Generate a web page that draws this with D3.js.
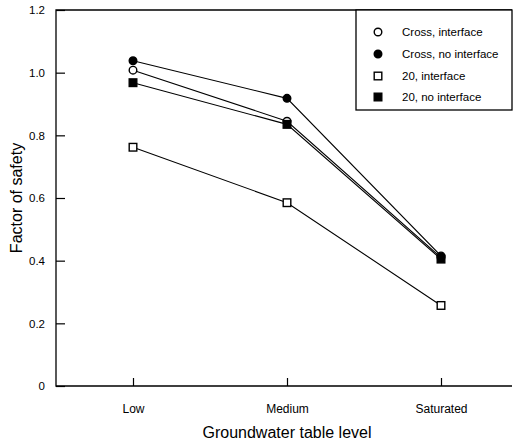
<!DOCTYPE html>
<html>
<head>
<meta charset="utf-8">
<script src="https://cdn.jsdelivr.net/npm/d3@7"></script>
<style>
  body { margin: 0; background: #fff; }
  text { font-family: "Liberation Sans", Arial, sans-serif; fill: #000; }
</style>
</head>
<body>
<svg id="chart" width="515" height="443"></svg>
<script>
// Groundwater table levels along the x axis
const levels = ["Low", "Medium", "Saturated"];

// Factor of safety for each case
const crossInterface   = [1.008, 0.845, 0.410];
const crossNoInterface = [1.038, 0.918, 0.415];
const twentyInterface  = [0.762, 0.585, 0.257];
const twentyNoInterface= [0.968, 0.835, 0.405];

const seriesNames = ["Cross, interface", "Cross, no interface", "20, interface", "20, no interface"];
const yTicks = [0, 0.2, 0.4, 0.6, 0.8, 1.0, 1.2];
const yTickLabels = ["0", "0.2", "0.4", "0.6", "0.8", "1.0", "1.2"];

const series = [
  { name: seriesNames[0], values: crossInterface,    shape: "circle", filled: false },
  { name: seriesNames[1], values: crossNoInterface,  shape: "circle", filled: true },
  { name: seriesNames[2], values: twentyInterface,   shape: "square", filled: false },
  { name: seriesNames[3], values: twentyNoInterface, shape: "square", filled: true }
];

const svg = d3.select("#chart");
const plotL = 56, plotR = 512, plotT = 10, plotB = 386;

const x = d3.scalePoint().domain(levels).range([plotL, 518]).padding(0.5);
const y = d3.scaleLinear().domain([0, 1.2]).range([plotB, plotT]);

// Frame: left, bottom and top edges
svg.append("path")
  .attr("d", `M${plotR},${plotT}H${plotL}V${plotB}H${plotR}`)
  .attr("fill", "none").attr("stroke", "#000").attr("stroke-width", 1.3);

// Y axis with inward ticks
const yAxis = d3.axisLeft(y).tickValues(yTicks)
  .tickFormat((d, i) => yTickLabels[i]).tickSizeInner(-9).tickSizeOuter(0).tickPadding(11);
const gy = svg.append("g").attr("transform", `translate(${plotL},0)`).call(yAxis);
gy.select(".domain").remove();
gy.selectAll("line").attr("stroke", "#000").attr("stroke-width", 1.2);
gy.selectAll("text").style("font-size", "11.5px").attr("fill", "#000");

// X axis with inward ticks
const xAxis = d3.axisBottom(x).tickSizeInner(-8).tickSizeOuter(0).tickPadding(18);
const gx = svg.append("g").attr("transform", `translate(0,${plotB})`).call(xAxis);
gx.select(".domain").remove();
gx.selectAll("line").attr("stroke", "#000").attr("stroke-width", 1.2);
gx.selectAll("text").style("font-size", "12px").attr("fill", "#000");

// Axis titles
svg.append("text").attr("x", 287).attr("y", 438).attr("text-anchor", "middle")
  .style("font-size", "16px").text("Groundwater table level");
svg.append("text").attr("transform", "translate(22,198) rotate(-90)").attr("text-anchor", "middle")
  .style("font-size", "16px").text("Factor of safety");

// Lines
const line = d3.line().x((d, i) => x(levels[i])).y(d => y(d));
series.forEach(s => {
  svg.append("path").datum(s.values).attr("d", line)
    .attr("fill", "none").attr("stroke", "#000").attr("stroke-width", 1.1);
});

function drawMarker(g, shape, filled, cx, cy) {
  if (shape === "circle") {
    g.append("circle").attr("cx", cx).attr("cy", cy).attr("r", 3.8)
      .attr("fill", filled ? "#000" : "#fff").attr("stroke", "#000").attr("stroke-width", 1.4);
  } else {
    g.append("rect").attr("x", cx - 3.8).attr("y", cy - 3.8).attr("width", 7.6).attr("height", 7.6)
      .attr("fill", filled ? "#000" : "#fff").attr("stroke", "#000").attr("stroke-width", 1.4);
  }
}

// Markers
series.forEach(s => {
  const g = svg.append("g");
  s.values.forEach((v, i) => drawMarker(g, s.shape, s.filled, x(levels[i]), y(v)));
});

// Legend
const legX = 356, legY = plotT, legW = plotR - 356, legH = 100;
svg.append("rect").attr("x", legX).attr("y", legY).attr("width", legW).attr("height", legH)
  .attr("fill", "#fff").attr("stroke", "#000").attr("stroke-width", 1.3);
const rowYs = [32, 54, 76, 97];
series.forEach((s, i) => {
  const g = svg.append("g");
  drawMarker(g, s.shape, s.filled, 378, rowYs[i]);
  g.append("text").attr("x", 402).attr("y", rowYs[i] + 4)
    .style("font-size", "11.5px").text(s.name);
});
</script>
</body>
</html>
